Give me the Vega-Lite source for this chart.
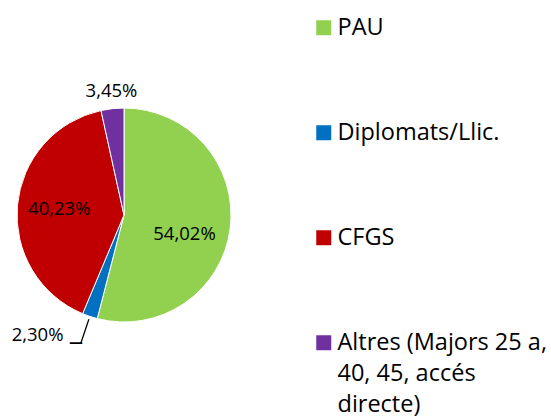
{
  "$schema": "https://vega.github.io/schema/vega-lite/v6.json",
  "width": 248,
  "height": 400,
  "autosize": {"type": "pad"},
  "padding": {"left": -23, "top": 15, "right": 0, "bottom": 0},
  "background": "white",
  "config": {"view": {"stroke": null}, "font": "Open Sans", "style": {"guide-label": {"lineHeight": 31}}},
  "data": {
    "values": [
      {"cat": "PAU", "pct": 54.02, "label": "54,02%", "i": 0},
      {"cat": "Diplomats/Llic.", "pct": 2.30, "label": "2,30%", "i": 1},
      {"cat": "CFGS", "pct": 40.23, "label": "40,23%", "i": 2},
      {"cat": "Altres (Majors 25 a, 40, 45, accés directe)", "pct": 3.45, "label": "3,45%", "i": 3}
    ]
  },
  "encoding": {
    "theta": {"field": "pct", "type": "quantitative", "stack": true},
    "order": {"field": "i", "type": "quantitative"},
    "detail": {"field": "cat", "type": "nominal"}
  },
  "layer": [
    {
      "mark": {"type": "arc", "radius": 107, "stroke": "white", "strokeWidth": 1},
      "encoding": {
        "color": {
          "field": "cat",
          "type": "nominal",
          "scale": {
            "domain": ["PAU", "Diplomats/Llic.", "CFGS", "Altres (Majors 25 a, 40, 45, accés directe)"],
            "range": ["#92D050", "#0070C0", "#C00000", "#7030A0"]
          },
          "legend": {
            "title": null,
            "orient": "none",
            "legendX": 312,
            "legendY": 1,
            "symbolType": "square",
            "symbolSize": 225,
            "symbolStrokeWidth": 0,
            "labelFontSize": 23.5,
            "labelFont": "Open Sans",
            "labelColor": "black",
            "labelLimit": 300,
            "rowPadding": 80,
            "padding": 0,
            "labelOffset": 2,
            "labelExpr": "datum.label == 'Altres (Majors 25 a, 40, 45, accés directe)' ? ['Altres (Majors 25 a,', '40, 45, accés', 'directe)'] : datum.label",
            "encode": {"labels": {"enter": {"lineHeight": {"value": 31}}, "update": {"lineHeight": {"value": 31}}}}
          }
        }
      }
    },
    {
      "mark": {"type": "arc", "radius": 136, "radius2": 110, "padAngle": 0.5, "fillOpacity": 0, "stroke": "black", "strokeWidth": 1.3},
      "encoding": {
        "strokeOpacity": {"condition": {"test": "datum.i == 1", "value": 1}, "value": 0}
      }
    },
    {
      "mark": {"type": "text", "radius": 63, "dx": -2, "dy": 11, "fontSize": 18.5, "fill": "black"},
      "encoding": {"text": {"condition": {"test": "datum.i == 0", "field": "label", "type": "nominal"}, "value": ""}}
    },
    {
      "mark": {"type": "text", "radius": 66, "dx": 1, "fontSize": 18.5, "fill": "black"},
      "encoding": {"text": {"condition": {"test": "datum.i == 2", "field": "label", "type": "nominal"}, "value": ""}}
    },
    {
      "mark": {"type": "text", "radius": 125, "dx": 1, "fontSize": 18.5, "fill": "black"},
      "encoding": {"text": {"condition": {"test": "datum.i == 3", "field": "label", "type": "nominal"}, "value": ""}}
    },
    {
      "mark": {"type": "text", "radius": 127, "align": "right", "dx": -20, "fontSize": 18.5, "fill": "black"},
      "encoding": {"text": {"condition": {"test": "datum.i == 1", "field": "label", "type": "nominal"}, "value": ""}}
    },
    {
      "mark": {"type": "text", "radius": 136, "align": "right", "dx": 1.5, "font": "DejaVu Sans", "fontSize": 20, "fill": "black"},
      "encoding": {"text": {"condition": {"test": "datum.i == 1", "value": "─"}, "value": ""}}
    }
  ]
}
